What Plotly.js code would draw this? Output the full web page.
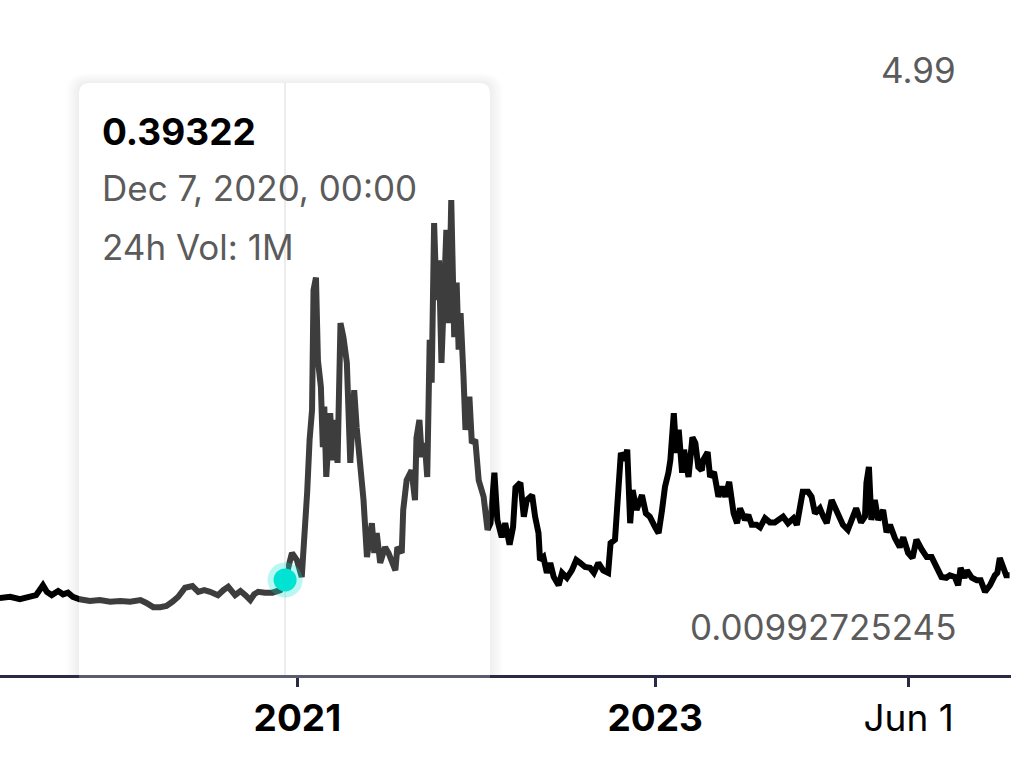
<!DOCTYPE html>
<html>
<head>
<meta charset="utf-8">
<script src="https://cdn.plot.ly/plotly-3.0.1.min.js"></script>
<style>html,body{margin:0;padding:0;background:#fff;}#chart{width:1011px;height:759px;}</style>
</head>
<body>
<div id="chart"></div>
<script>
const dates = [
'2019-05-05','2019-05-26','2019-06-15','2019-07-05','2019-07-18','2019-08-01','2019-08-09','2019-08-19','2019-09-01','2019-09-11',
'2019-09-21','2019-10-01','2019-10-15','2019-11-05','2019-11-25','2019-12-16','2020-01-06','2020-01-26','2020-02-16','2020-02-28',
'2020-03-13','2020-03-27','2020-04-09','2020-04-21','2020-05-03','2020-05-17','2020-06-01','2020-06-13','2020-06-25','2020-07-07',
'2020-07-23','2020-08-03','2020-08-13','2020-08-27','2020-09-07','2020-09-17','2020-09-27','2020-10-05','2020-10-13','2020-10-27',
'2020-11-11','2020-11-27','2020-12-07','2020-12-21','2020-12-31','2021-01-10','2021-01-17','2021-01-21','2021-01-26','2021-01-31',
'2021-02-03','2021-02-08','2021-02-12','2021-02-18','2021-02-22','2021-02-25','2021-03-01','2021-03-09','2021-03-15','2021-03-19',
'2021-03-24','2021-03-30','2021-04-05','2021-04-12','2021-04-19','2021-04-27','2021-05-02','2021-05-09','2021-05-16','2021-05-23',
'2021-06-02','2021-06-07','2021-06-12','2021-06-19','2021-06-29','2021-07-06','2021-07-13','2021-07-20','2021-07-24','2021-08-02',
'2021-08-05','2021-08-12','2021-08-22','2021-08-29','2021-09-01','2021-09-07','2021-09-12','2021-09-18','2021-09-23','2021-09-28',
'2021-10-02','2021-10-07','2021-10-12','2021-10-17','2021-10-22','2021-10-27','2021-11-01','2021-11-06','2021-11-11','2021-11-17',
'2021-11-22','2021-11-26','2021-11-30','2021-12-06','2021-12-10','2021-12-18','2021-12-23','2021-12-30','2022-01-06','2022-01-16',
'2022-01-24','2022-01-30','2022-02-07','2022-02-13','2022-02-22','2022-03-01','2022-03-10','2022-03-17','2022-03-22','2022-04-01',
'2022-04-08','2022-04-14','2022-04-25','2022-05-01','2022-05-08','2022-05-11','2022-05-18','2022-05-25','2022-06-01','2022-06-08',
'2022-06-18','2022-06-25','2022-07-05','2022-07-15','2022-07-24','2022-08-01','2022-08-11','2022-08-21','2022-08-29','2022-09-07',
'2022-09-17','2022-09-27','2022-10-02','2022-10-11','2022-10-18','2022-10-23','2022-10-31','2022-11-05','2022-11-11','2022-11-16',
'2022-11-24','2022-12-05','2022-12-13','2022-12-21','2023-01-01','2023-01-08','2023-01-15','2023-01-21','2023-01-28','2023-02-01',
'2023-02-08','2023-02-13','2023-02-18','2023-02-25','2023-03-01','2023-03-10','2023-03-18','2023-03-24','2023-03-30','2023-04-06',
'2023-04-09','2023-04-18','2023-04-23','2023-05-01','2023-05-10','2023-05-17','2023-05-24','2023-06-01','2023-06-10','2023-06-17',
'2023-06-23','2023-07-03','2023-07-10','2023-07-17','2023-07-27','2023-08-03','2023-08-13','2023-08-23','2023-09-02','2023-09-12',
'2023-09-19','2023-09-29','2023-10-10','2023-10-17','2023-10-23','2023-10-29','2023-11-09','2023-11-16','2023-11-23','2023-12-03',
'2023-12-10','2023-12-17','2023-12-27','2024-01-02','2024-01-09','2024-01-19','2024-01-29','2024-02-07','2024-02-15','2024-02-25',
'2024-03-04','2024-03-07','2024-03-12','2024-03-17','2024-03-24','2024-03-31','2024-04-10','2024-04-17','2024-04-24','2024-05-04',
'2024-05-14','2024-05-21','2024-05-31','2024-06-09','2024-06-17','2024-06-28','2024-07-08','2024-07-18','2024-07-28','2024-08-07',
'2024-08-17','2024-08-24','2024-09-03','2024-09-10','2024-09-15','2024-09-23','2024-09-28','2024-10-08','2024-10-18','2024-10-26',
'2024-11-04','2024-11-14','2024-11-24','2024-11-29','2024-12-04','2024-12-10','2024-12-17','2024-12-24'
];
const prices = [
0.175,0.19,0.16,0.19,0.21,0.33,0.25,0.21,0.26,0.22,
0.24,0.19,0.16,0.14,0.15,0.13,0.14,0.13,0.15,0.115,
0.065,0.065,0.08,0.13,0.19,0.30,0.32,0.25,0.27,0.25,
0.21,0.27,0.31,0.21,0.26,0.21,0.15,0.22,0.25,0.24,
0.24,0.27,0.39322,0.72,0.635,0.43,0.96,1.45,2.09,2.45,
3.90,4.05,3.05,2.73,2.00,2.49,1.64,2.41,1.84,2.33,
1.81,3.50,3.33,3.02,1.81,2.69,2.24,1.84,1.36,0.67,
1.08,0.72,0.96,0.60,0.79,0.72,0.635,0.51,0.79,0.72,
1.24,1.60,1.72,1.36,2.11,2.33,1.88,2.05,1.64,3.30,
2.78,4.71,3.78,4.26,3.02,3.90,4.63,3.50,4.99,3.33,
3.99,3.18,3.62,2.85,2.21,2.61,2.05,2.09,1.60,1.40,
1.00,1.08,1.69,1.12,0.91,1.08,0.82,1.03,1.51,1.57,
1.16,1.36,1.42,1.16,0.96,0.635,0.67,0.48,0.60,0.43,
0.33,0.48,0.42,0.51,0.635,0.60,0.55,0.54,0.48,0.60,
0.51,0.48,0.84,0.88,1.48,1.93,1.84,1.97,1.08,1.48,
1.24,1.42,1.20,1.16,1.03,0.96,1.24,1.52,1.69,1.845,
2.41,1.93,2.21,1.69,1.97,1.64,2.12,2.05,1.76,1.72,
1.845,1.94,1.64,1.70,1.40,1.52,1.40,1.58,1.20,1.08,
1.26,1.12,1.18,1.06,1.06,1.03,1.14,1.09,1.09,1.14,
1.16,1.08,1.14,1.06,1.28,1.46,1.46,1.40,1.20,1.26,
1.16,1.08,1.36,1.28,1.22,1.06,1.00,1.16,1.26,1.09,
1.16,1.57,1.76,1.12,1.36,1.12,1.24,0.97,1.06,0.90,
0.79,0.91,0.72,0.66,0.88,0.76,0.67,0.67,0.55,0.43,
0.42,0.45,0.43,0.33,0.54,0.42,0.51,0.42,0.39,0.39,
0.25,0.33,0.45,0.48,0.66,0.55,0.45,0.45
];
const tickDates = ['2021-01-01','2023-01-01','2024-06-01'];
const tickLabels = ['<b>2021</b>','<b>2023</b>','Jun 1'];
const rangeLabels = ['4.99','0.00992725245'];
const hoverDate = '2020-12-07';
const hoverValue = 0.39322;
const hoverDateLabel = 'Dec 7, 2020, 00:00';
const hoverVol = '24h Vol: 1M';

const W = 1011, H = 759, MB = 84, PH = H - MB;
const FONT = 'Inter, Roboto, sans-serif';
function px(x){ return x / W; }
function py(y){ return 1 - y / PH; }
function roundTopRect(x0, y0, x1, y1, r){
  const rx = r / W, ry = r / PH;
  const X0 = px(x0), X1 = px(x1), T = py(y0), B = py(y1);
  return 'M ' + X0 + ' ' + B + ' L ' + X0 + ' ' + (T - ry) +
    ' Q ' + X0 + ' ' + T + ' ' + (X0 + rx) + ' ' + T +
    ' L ' + (X1 - rx) + ' ' + T +
    ' Q ' + X1 + ' ' + T + ' ' + X1 + ' ' + (T - ry) +
    ' L ' + X1 + ' ' + B + ' Z';
}

const box = {x0: 79, y0: 83, x1: 490, y1: 678};
const shapes = [];
for (let i = 8; i >= 1; i--) {
  shapes.push({type:'path', xref:'paper', yref:'paper', layer:'below',
    path: roundTopRect(box.x0 - i*1.6, box.y0 - i*1.2, box.x1 + i*1.6, PH, 11 + i),
    fillcolor:'rgba(0,0,0,0.009)', line:{width:0}});
}
shapes.push({type:'path', xref:'paper', yref:'paper', layer:'below',
  path: roundTopRect(box.x0, box.y0, box.x1, PH, 11),
  fillcolor:'#ffffff', line:{width:0}});
shapes.push({type:'path', xref:'paper', yref:'paper', layer:'above',
  path: roundTopRect(box.x0, box.y0, box.x1, box.y1, 11),
  fillcolor:'rgba(255,255,255,0.24)', line:{width:0}});
shapes.push({type:'line', xref:'x', yref:'paper', layer:'above',
  x0: hoverDate, x1: hoverDate, y0: py(box.y1 - 3), y1: py(box.y0),
  line:{color:'#ececec', width:2}});
shapes.push({type:'circle', xref:'x', yref:'y', layer:'above',
  xsizemode:'pixel', ysizemode:'pixel', xanchor: hoverDate, yanchor: hoverValue,
  x0:-17.5, x1:17.5, y0:-17.5, y1:17.5,
  fillcolor:'rgba(0,226,210,0.28)', line:{width:0}});
shapes.push({type:'circle', xref:'x', yref:'y', layer:'above',
  xsizemode:'pixel', ysizemode:'pixel', xanchor: hoverDate, yanchor: hoverValue,
  x0:-11.5, x1:11.5, y0:-11.5, y1:11.5,
  fillcolor:'#00e3d2', line:{width:0}});

const gray = '#5b5b5b';
const annotations = [
  {text: rangeLabels[0], xref:'paper', yref:'paper', x: px(958), y: py(70), xanchor:'right', yanchor:'middle',
   showarrow:false, font:{family:FONT, size:35, color:gray}},
  {text: rangeLabels[1], xref:'paper', yref:'paper', x: px(958), y: py(627), xanchor:'right', yanchor:'middle',
   showarrow:false, font:{family:FONT, size:35, color:gray}},
  {text: '<b>' + String(hoverValue) + '</b>', xref:'paper', yref:'paper', x: px(100), y: py(131), xanchor:'left', yanchor:'middle',
   showarrow:false, font:{family:FONT, size:37, color:'#000'}},
  {text: hoverDateLabel, xref:'paper', yref:'paper', x: px(100), y: py(188), xanchor:'left', yanchor:'middle',
   showarrow:false, font:{family:FONT, size:35, color:gray}},
  {text: hoverVol, xref:'paper', yref:'paper', x: px(100), y: py(247), xanchor:'left', yanchor:'middle',
   showarrow:false, font:{family:FONT, size:35, color:gray}}
];

const trace = {
  x: dates, y: prices, type:'scatter', mode:'lines',
  line:{color:'#000000', width:6, shape:'linear'},
  hoverinfo:'skip'
};

const layout = {
  width: W, height: H,
  margin:{l:0, r:0, t:0, b:MB, pad:0},
  paper_bgcolor:'#ffffff', plot_bgcolor:'#ffffff',
  showlegend:false,
  xaxis:{
    type:'date', range:['2019-05-05 10:00','2024-12-26 21:00'],
    showgrid:false, zeroline:false,
    showline:true, linecolor:'#2a2a45', linewidth:3,
    ticks:'outside', ticklen:9, tickwidth:3, tickcolor:'#2a2a45',
    tickmode:'array', tickvals: tickDates, ticktext: tickLabels,
    tickfont:{family:FONT, size:37, color:'#000'},
    fixedrange:true
  },
  yaxis:{
    range:[-0.756, 7.409], visible:false, showgrid:false, zeroline:false, fixedrange:true
  },
  shapes: shapes,
  annotations: annotations
};

Plotly.newPlot('chart', [trace], layout, {displayModeBar:false, staticPlot:true});
</script>
</body>
</html>
